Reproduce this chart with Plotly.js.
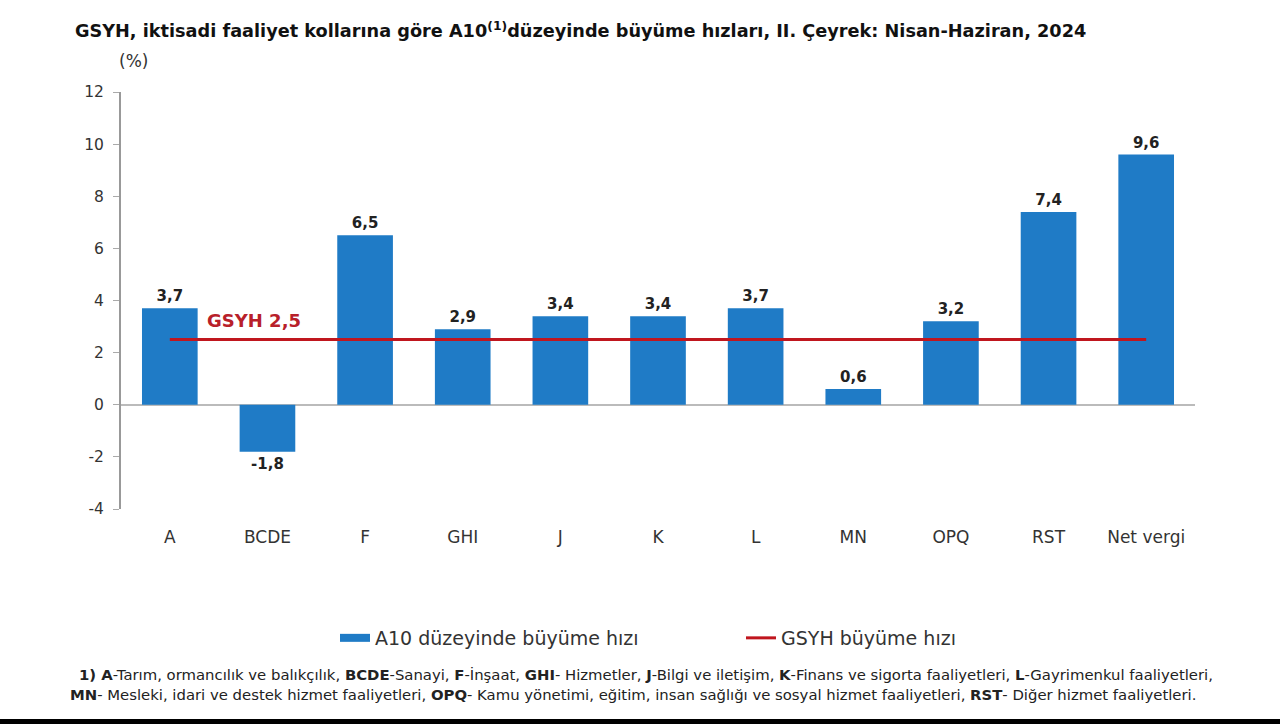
<!DOCTYPE html>
<html><head><meta charset="utf-8">
<script src="https://cdn.plot.ly/plotly-3.0.1.min.js"></script>
<style>html,body{margin:0;padding:0;background:#fff}#c{width:1280px;height:724px}</style>
</head><body><div id="c"></div>
<script>
const categories = ["A","BCDE","F","GHI","J","K","L","MN","OPQ","RST","Net vergi"];
const growth = [3.7,-1.8,6.5,2.9,3.4,3.4,3.7,0.6,3.2,7.4,9.6];
const gdpGrowth = [2.5,2.5,2.5,2.5,2.5,2.5,2.5,2.5,2.5,2.5,2.5];
const yTicks = [-4,-2,0,2,4,6,8,10,12];
const yTickLabels = ["-4","-2","0","2","4","6","8","10","12"];

const font = "DejaVu Sans, Verdana, sans-serif";
const L = 121, R = 1195, T = 92, B = 509;
const px = v => (v - L) / (R - L);
const py = v => (B - v) / (B - T);

const traces = [
  {type:"bar", x:categories, y:growth, name:"A10 düzeyinde büyüme hızı", showlegend:false,
   marker:{color:"#1f7bc6"}, width:0.57,
   texttemplate:"%{y:.1f}", textposition:"outside", cliponaxis:false,
   textfont:{family:font, size:15, color:"#222", weight:"bold"}},
  {type:"scatter", mode:"lines", x:[categories[0]], y:[null], name:"A10 düzeyinde büyüme hızı",
   line:{color:"#1f7bc6", width:8}, hoverinfo:"skip"},
  {type:"scatter", mode:"lines", x:categories, y:gdpGrowth, name:"GSYH büyüme hızı",
   line:{color:"#c0161e", width:3}}
];
const layout = {
  width:1280, height:724, separators:",.",
  margin:{l:L, r:1280-R, t:T, b:724-B},
  paper_bgcolor:"#fff", plot_bgcolor:"#fff",
  font:{family:font, size:16, color:"#333"},
  showlegend:true,
  legend:{orientation:"h", x:px(335), xanchor:"left", y:py(638), yanchor:"middle",
          entrywidth:361, entrywidthmode:"pixels", font:{size:19, color:"#333"}},
  xaxis:{showline:false, showgrid:false, ticks:"", ticklabelstandoff:16,
         tickfont:{size:17, color:"#333"}},
  yaxis:{range:[-4,12], tickvals:yTicks, ticktext:yTickLabels, showgrid:false, showline:true, linecolor:"#999", linewidth:2,
         ticks:"outside", ticklen:6, tickcolor:"#aaa", zeroline:true, zerolinecolor:"#bbb", zerolinewidth:2,
         tickfont:{size:15.5, color:"#333"}, ticklabelstandoff:6},
  title:{text:"<b>GSYH, iktisadi faaliyet kollarına göre A10<sup>(1)</sup>düzeyinde büyüme hızları, II. Çeyrek: Nisan-Haziran, 2024</b>",
         x:75/1280, xref:"container", xanchor:"left", y:1-31/724, yref:"container", yanchor:"middle",
         font:{size:17.7, color:"#111"}},
  annotations:[
    {text:"(%)", xref:"paper", yref:"paper", x:px(133), y:py(61), xanchor:"center", yanchor:"middle", showarrow:false,
     font:{size:17, color:"#333"}},
    {text:"<b>GSYH 2,5</b>", xref:"x", yref:"y", x:0.36, y:3.25, xanchor:"left", yanchor:"middle", showarrow:false,
     font:{size:18, color:"#b8202a"}},
    {text:"<b>1) A</b>-Tarım, ormancılık ve balıkçılık, <b>BCDE</b>-Sanayi, <b>F</b>-İnşaat, <b>GHI</b>- Hizmetler, <b>J</b>-Bilgi ve iletişim, <b>K</b>-Finans ve sigorta faaliyetleri, <b>L</b>-Gayrimenkul faaliyetleri,",
     xref:"paper", yref:"paper", x:px(77), y:py(675), xanchor:"left", yanchor:"middle", showarrow:false,
     font:{size:14.85, color:"#222"}},
    {text:"<b>MN</b>- Mesleki, idari ve destek hizmet faaliyetleri, <b>OPQ</b>- Kamu yönetimi, eğitim, insan sağlığı ve sosyal hizmet faaliyetleri, <b>RST</b>- Diğer hizmet faaliyetleri.",
     xref:"paper", yref:"paper", x:px(1198), y:py(695), xanchor:"right", yanchor:"middle", showarrow:false,
     font:{size:14.85, color:"#222"}}
  ],
  shapes:[
    {type:"rect", xref:"paper", yref:"paper", x0:-0.2, x1:1.2, y0:py(719), y1:py(730), fillcolor:"#000", line:{width:0}}
  ]
};
Plotly.newPlot("c", traces, layout, {displayModeBar:false});
</script></body></html>
